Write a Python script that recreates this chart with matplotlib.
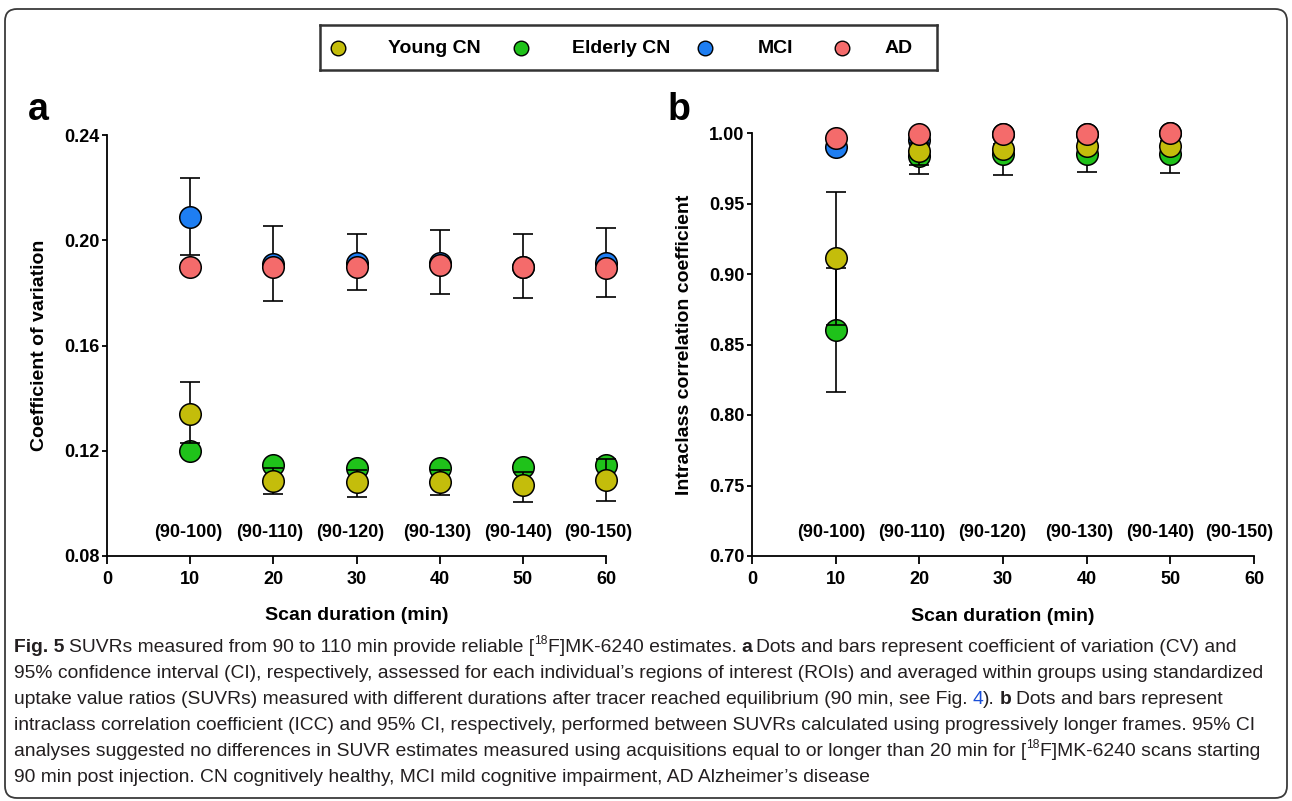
import numpy as np
import matplotlib
matplotlib.use("Agg")
import matplotlib.pyplot as plt
import matplotlib.transforms as mtransforms
from matplotlib import font_manager
from matplotlib.patches import FancyBboxPatch
from matplotlib.text import Annotation


# scan durations (min) and the matching frame windows
durations = [10, 20, 30, 40, 50, 60]
frame_labels = ["(90-100)", "(90-110)", "(90-120)", "(90-130)", "(90-140)", "(90-150)"]

groups = ["Young CN", "Elderly CN", "MCI", "AD"]
colors = {"Young CN": "#c4bd0b", "Elderly CN": "#1fc21a", "MCI": "#1e7ef2", "AD": "#f46b6b"}

# panel a: coefficient of variation, mean and 95% CI
cv_young = [0.134, 0.1085, 0.108, 0.108, 0.107, 0.109]
cv_young_lo = [0.123, 0.1035, 0.1025, 0.103, 0.1005, 0.101]
cv_young_hi = [0.146, 0.1135, 0.1125, 0.1125, 0.112, 0.117]
cv_elderly = [0.120, 0.1145, 0.1135, 0.1135, 0.114, 0.1145]
cv_elderly_lo = [0.1188, 0.1133, 0.1123, 0.1123, 0.1128, 0.1133]
cv_elderly_hi = [0.1212, 0.1157, 0.1147, 0.1147, 0.1152, 0.1157]
cv_mci = [0.209, 0.191, 0.1915, 0.1915, 0.190, 0.1915]
cv_mci_lo = [0.1945, 0.177, 0.181, 0.1795, 0.178, 0.1785]
cv_mci_hi = [0.2235, 0.2055, 0.2025, 0.204, 0.2025, 0.2045]
cv_ad = [0.190, 0.190, 0.190, 0.1905, 0.190, 0.1895]
cv_ad_lo = [0.1888, 0.1888, 0.1888, 0.1893, 0.1888, 0.1883]
cv_ad_hi = [0.1912, 0.1912, 0.1912, 0.1917, 0.1912, 0.1907]

# panel b: intraclass correlation coefficient (no value for 60 min)
icc_durations = [10, 20, 30, 40, 50]
icc_young = [0.911, 0.987, 0.989, 0.991, 0.991]
icc_young_lo = [0.864, 0.977, 0.986, 0.988, 0.988]
icc_young_hi = [0.958, 0.993, 0.992, 0.994, 0.994]
icc_elderly = [0.860, 0.984, 0.985, 0.985, 0.985]
icc_elderly_lo = [0.816, 0.971, 0.970, 0.972, 0.9715]
icc_elderly_hi = [0.904, 0.997, 0.999, 0.998, 0.998]
icc_mci = [0.990, 0.995, 0.999, 0.9995, 1.000]
icc_mci_lo = [0.9885, 0.9935, 0.9975, 0.998, 0.9985]
icc_mci_hi = [0.9915, 0.9965, 1.000, 1.000, 1.000]
icc_ad = [0.9965, 0.999, 0.9995, 0.9995, 1.000]
icc_ad_lo = [0.995, 0.9975, 0.998, 0.998, 0.9985]
icc_ad_hi = [0.998, 1.000, 1.000, 1.000, 1.000]

cv_ticks = [0.08, 0.12, 0.16, 0.20, 0.24]
icc_ticks = [0.70, 0.75, 0.80, 0.85, 0.90, 0.95, 1.00]
x_ticks = [0, 10, 20, 30, 40, 50, 60]

names = {f.name for f in font_manager.fontManager.ttflist}
FONT = "Liberation Sans" if "Liberation Sans" in names else "DejaVu Sans"
CAP_FONT = "Liberation Sans Narrow" if "Liberation Sans Narrow" in names else FONT

plt.rcParams["font.family"] = [FONT, "DejaVu Sans"]

W, H = 1292, 801
fig = plt.figure(figsize=(W / 100, H / 100), dpi=100)


def px_axes(left, top, right, bottom):
    return fig.add_axes([left / W, 1 - bottom / H, (right - left) / W, (bottom - top) / H])


def draw_series(ax, xs, series):
    # bars sit under their own marker but over the markers drawn before
    for i, (name, mean, lo, hi) in enumerate(series):
        mean = np.array(mean)
        err = [mean - np.array(lo), np.array(hi) - mean]
        ax.errorbar(xs, mean, yerr=err, fmt="none", ecolor="black", elinewidth=1.2,
                    capsize=7, capthick=1.2, zorder=2 + 2 * i, clip_on=False)
        ax.plot(xs, mean, "o", ms=15.5, mfc=colors[name], mec="black", mew=1.1,
                zorder=3 + 2 * i, clip_on=False)


def style_axis(ax, ylim, yticks, ylabel, ylab_x, nudges):
    ax.set_xlim(0, 60)
    ax.set_ylim(*ylim)
    for s in ["top", "right"]:
        ax.spines[s].set_visible(False)
    for s in ["left", "bottom"]:
        ax.spines[s].set_linewidth(1.3)
    ax.set_xticks(x_ticks)
    ax.set_yticks(yticks)
    ax.set_yticklabels([f"{t:.2f}" for t in yticks])
    ax.tick_params(axis="x", length=6, width=1.3, pad=5, labelsize=13)
    ax.tick_params(axis="y", length=3.5, width=1.3, pad=2, labelsize=13)
    for lab in ax.get_xticklabels() + ax.get_yticklabels():
        lab.set_fontweight("bold")
    ax.set_ylabel(ylabel, fontsize=14, fontweight="bold")
    ax.yaxis.set_label_coords(ylab_x, 0.5)
    ax.set_xlabel("Scan duration (min)", fontsize=14, fontweight="bold")
    ax.xaxis.set_label_coords(0.5, -0.122)
    trans = mtransforms.blended_transform_factory(ax.transData, ax.transAxes)
    for x, lab, dx in zip(durations, frame_labels, nudges):
        t = ax.text(x, 0.055, lab, transform=trans, ha="center", va="center",
                    fontsize=13, fontweight="bold")
        t.set_transform(trans + mtransforms.ScaledTranslation(dx / 100, 0, fig.dpi_scale_trans))


# panel a
ax_a = px_axes(107, 135, 606, 556)
draw_series(ax_a, durations, [
    ("Elderly CN", cv_elderly, cv_elderly_lo, cv_elderly_hi),
    ("Young CN", cv_young, cv_young_lo, cv_young_hi),
    ("MCI", cv_mci, cv_mci_lo, cv_mci_hi),
    ("AD", cv_ad, cv_ad_lo, cv_ad_hi),
])
style_axis(ax_a, (0.08, 0.24), cv_ticks, "Coefficient of variation", -0.118,
           [-2, -4, -6, -2, -5, -8])

# panel b
ax_b = px_axes(752, 133, 1254, 556)
draw_series(ax_b, icc_durations, [
    ("Elderly CN", icc_elderly, icc_elderly_lo, icc_elderly_hi),
    ("MCI", icc_mci, icc_mci_lo, icc_mci_hi),
    ("Young CN", icc_young, icc_young_lo, icc_young_hi),
    ("AD", icc_ad, icc_ad_lo, icc_ad_hi),
])
style_axis(ax_b, (0.70, 1.00), icc_ticks, "Intraclass correlation coefficient", -0.117,
           [-4, -8, -11, -7, -10, -15])

fig.text(28 / W, 1 - 120 / H, "a", fontsize=27, fontweight="bold", va="baseline")
fig.text(668 / W, 1 - 120 / H, "b", fontsize=27, fontweight="bold", va="baseline")

# legend box drawn by hand
leg = px_axes(320, 25, 937, 70)
leg.set_xlim(320, 937)
leg.set_ylim(70, 25)
leg.set_xticks([])
leg.set_yticks([])
for s in leg.spines.values():
    s.set_linewidth(1.8)
    s.set_color("#333333")
leg_pos = [(338, 388), (521, 572), (705, 758), (842, 885)]
for name, (mx, tx) in zip(groups, leg_pos):
    leg.plot(mx, 48, "o", ms=10.5, mfc=colors[name], mec="black", mew=1.0)
    leg.text(tx, 48.5, name, fontsize=14, fontweight="bold", va="center", ha="left")

# outer rounded frame
frame = FancyBboxPatch((5, 3), W - 10, H - 12, boxstyle="round,pad=0,rounding_size=12",
                       transform=mtransforms.IdentityTransform(), fill=False,
                       edgecolor="#3a3a3a", linewidth=1.3)
fig.add_artist(frame)

# caption, one line at a time
CAP_SIZE = 13.9
caption = [
    [("Fig. 5", "bold", 0), ("SUVRs measured from 90 to 110 min provide reliable [", "reg", 1),
     ("18", "sup", 0), ("F]MK-6240 estimates.", "reg", 0), ("a", "bold", 1),
     ("Dots and bars represent coefficient of variation (CV) and", "reg", 1)],
    [("95% confidence interval (CI), respectively, assessed for each individual\u2019s regions "
      "of interest (ROIs) and averaged within groups using standardized", "reg", 0)],
    [("uptake value ratios (SUVRs) measured with different durations after tracer reached "
      "equilibrium (90 min, see Fig.", "reg", 0), ("4", "link", 1), (").", "reg", 0),
     ("b", "bold", 1), ("Dots and bars represent", "reg", 1)],
    [("intraclass correlation coefficient (ICC) and 95% CI, respectively, performed between "
      "SUVRs calculated using progressively longer frames. 95% CI", "reg", 0)],
    [("analyses suggested no differences in SUVR estimates measured using acquisitions equal "
      "to or longer than 20 min for [", "reg", 0), ("18", "sup", 0),
     ("F]MK-6240 scans starting", "reg", 0)],
    [("90 min post injection. CN cognitively healthy, MCI mild cognitive impairment, "
      "AD Alzheimer\u2019s disease", "reg", 0)],
]

for i, line in enumerate(caption):
    base_y = H - (652 + 26 * i)
    prev = None
    for txt, kind, gap in line:
        kw = dict(fontfamily=[CAP_FONT, "DejaVu Sans"], color="#231f20", va="baseline")
        size = CAP_SIZE
        rise = 0
        if kind == "bold":
            kw["fontweight"] = "bold"
        elif kind == "sup":
            size = CAP_SIZE * 0.62
            rise = CAP_SIZE * 0.42
        elif kind == "link":
            kw["color"] = "#1a4fd8"
        if prev is None:
            t = fig.text(14 / W, base_y / H, txt, fontsize=size, **kw)
        else:
            dx = CAP_SIZE * 0.24 * gap
            t = fig.add_artist(Annotation(
                txt, xy=(1, base_y), xycoords=(prev, "figure pixels"),
                xytext=(dx, rise), textcoords="offset points", fontsize=size, **kw))
        prev = t

fig.savefig("out.png", dpi=100)
